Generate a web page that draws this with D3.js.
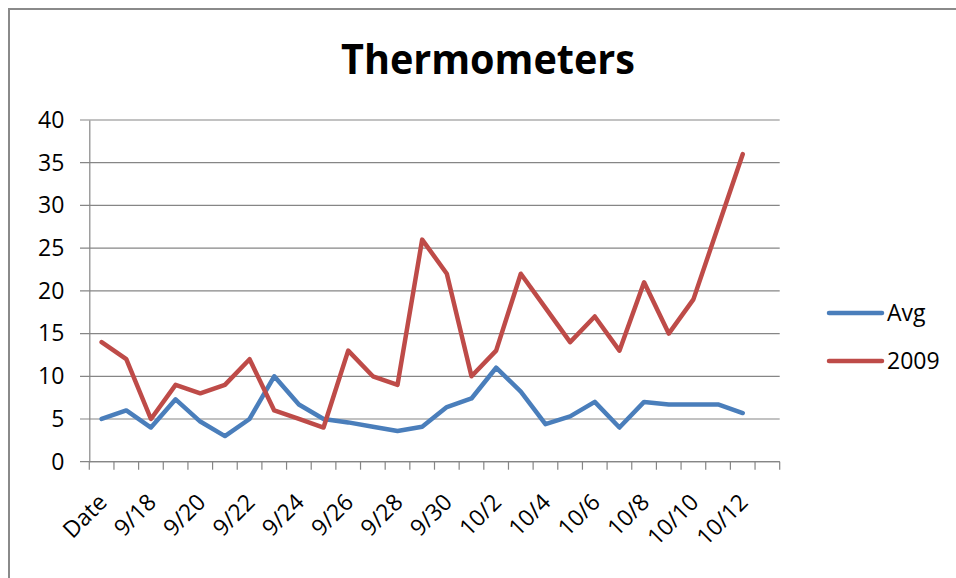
<!DOCTYPE html>
<html>
<head>
<meta charset="utf-8">
<script src="https://cdn.jsdelivr.net/npm/d3@7"></script>
<style>
  body { margin: 0; background: #fff; }
  svg { display: block; }
</style>
</head>
<body>
<div id="chart-area"></div>
<script>
// categories on the x axis (the last one has no data)
var categories = ["Date", "9/17", "9/18", "9/19", "9/20", "9/21", "9/22", "9/23", "9/24",
    "9/25", "9/26", "9/27", "9/28", "9/29", "9/30", "10/1", "10/2", "10/3", "10/4",
    "10/5", "10/6", "10/7", "10/8", "10/9", "10/10", "10/11", "10/12", "10/13"];

// series values
var avgValues = [5, 6, 4, 7.3, 4.7, 3, 5, 10, 6.7, 5, 4.6, 4.1, 3.6, 4.1,
    6.4, 7.4, 11, 8.2, 4.4, 5.3, 7, 4, 7, 6.7, 6.7, 6.7, 5.7];
var values2009 = [14, 12, 5, 9, 8, 9, 12, 6, 5, 4, 13, 10, 9, 26,
    22, 10, 13, 22, 18, 14, 17, 13, 21, 15, 19, 27.5, 36];

// tick labels
var xTickLabels = ["Date", "9/18", "9/20", "9/22", "9/24", "9/26", "9/28", "9/30",
    "10/2", "10/4", "10/6", "10/8", "10/10", "10/12"];
var yTicks = [0, 5, 10, 15, 20, 25, 30, 35, 40];

var series = [
    { name: "Avg", values: avgValues, color: "#4A7EBB" },
    { name: "2009", values: values2009, color: "#BE4B48" }
];

var W = 956, H = 578;
var font = "'Open Sans', 'Noto Sans', sans-serif";

var svg = d3.select("#chart-area").append("svg")
    .attr("width", W)
    .attr("height", H);

// outer chart frame (runs off the right and bottom edges)
svg.append("rect")
    .attr("x", 9).attr("y", 9)
    .attr("width", 1000).attr("height", 1000)
    .attr("fill", "none")
    .attr("stroke", "#8a8a8a")
    .attr("stroke-width", 2);

// title
svg.append("text")
    .attr("x", 488)
    .attr("y", 73.5)
    .attr("text-anchor", "middle")
    .attr("font-family", font)
    .attr("font-weight", "bold")
    .attr("font-size", 42)
    .attr("textLength", 294)
    .attr("lengthAdjust", "spacingAndGlyphs")
    .text("Thermometers");

// scales
var x = d3.scaleBand()
    .domain(categories)
    .range([89.3, 779.7]);

var y = d3.scaleLinear()
    .domain([0, 40])
    .range([461.7, 120]);

// gridlines
svg.append("g")
    .selectAll("line")
    .data(yTicks)
    .enter()
    .append("line")
    .attr("x1", 80)
    .attr("x2", 779.7)
    .attr("y1", function (d) { return y(d); })
    .attr("y2", function (d) { return y(d); })
    .attr("stroke", "#868686")
    .attr("stroke-width", 1.2);

// y axis
var yAxisCall = d3.axisLeft(y)
    .tickValues(yTicks)
    .tickSize(0)
    .tickPadding(25);

var yAxis = svg.append("g")
    .attr("transform", "translate(89.3, 0)")
    .call(yAxisCall);
yAxis.select(".domain").attr("stroke", "#868686").attr("stroke-width", 1.2);
yAxis.selectAll("text")
    .attr("font-family", font)
    .attr("font-size", 23)
    .attr("fill", "#000");

// x axis: ticks sit on band boundaries
var xAxis = svg.append("g");
xAxis.append("line")
    .attr("x1", x.range()[0]).attr("x2", x.range()[1])
    .attr("y1", y(0)).attr("y2", y(0))
    .attr("stroke", "#868686")
    .attr("stroke-width", 1.2);

var bounds = categories.map(function (d) { return x(d); }).concat([x.range()[1]]);
xAxis.selectAll(".tick")
    .data(bounds)
    .enter()
    .append("line")
    .attr("x1", function (d) { return d; })
    .attr("x2", function (d) { return d; })
    .attr("y1", y(0))
    .attr("y2", y(0) + 8)
    .attr("stroke", "#868686")
    .attr("stroke-width", 1.2);

xAxis.selectAll(".label")
    .data(xTickLabels)
    .enter()
    .append("text")
    .attr("transform", function (d) {
        var cx = x(d) + x.bandwidth() / 2;
        return "translate(" + (cx + 1) + ", 498) rotate(-45)";
    })
    .attr("dy", "0.35em")
    .attr("text-anchor", "end")
    .attr("font-family", font)
    .attr("font-size", 23)
    .text(function (d) { return d; });

// lines
var line = d3.line()
    .x(function (d, i) { return x(categories[i]) + x.bandwidth() / 2; })
    .y(function (d) { return y(d); });

svg.selectAll(".series")
    .data(series)
    .enter()
    .append("path")
    .attr("d", function (d) { return line(d.values); })
    .attr("fill", "none")
    .attr("stroke", function (d) { return d.color; })
    .attr("stroke-width", 4.5)
    .attr("stroke-linejoin", "round")
    .attr("stroke-linecap", "round");

// legend
var legend = svg.selectAll(".legend")
    .data(series)
    .enter()
    .append("g")
    .attr("transform", function (d, i) { return "translate(0," + (313 + i * 48) + ")"; });

legend.append("line")
    .attr("x1", 829).attr("x2", 882)
    .attr("y1", 0).attr("y2", 0)
    .attr("stroke", function (d) { return d.color; })
    .attr("stroke-width", 4.5)
    .attr("stroke-linecap", "round");

legend.append("text")
    .attr("x", 887)
    .attr("dy", "0.35em")
    .attr("font-family", font)
    .attr("font-size", 23)
    .text(function (d) { return d.name; });
</script>
</body>
</html>
